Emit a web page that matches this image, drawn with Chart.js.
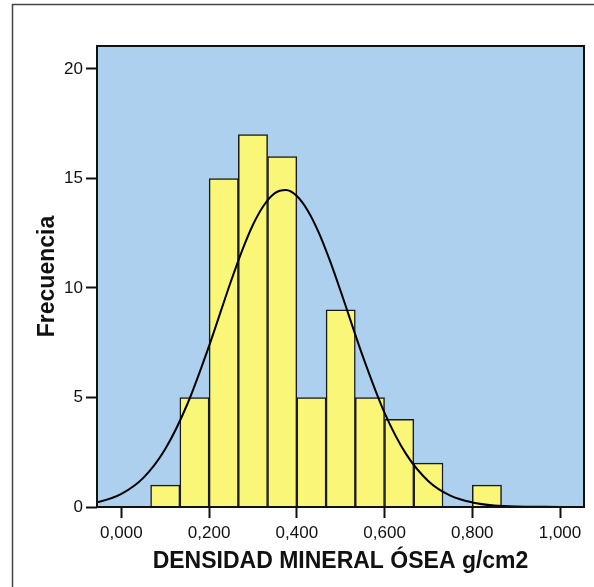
<!DOCTYPE html>
<html lang="es">
<head>
<meta charset="UTF-8">
<title>Densidad mineral ósea - histograma</title>
<script src="https://cdn.jsdelivr.net/npm/chart.js@4.4.1/dist/chart.umd.min.js"></script>
<style>
    html, body { margin: 0; padding: 0; background: #fff; }
</style>
</head>
<body>
<canvas id="histChart" width="594" height="587"></canvas>
<script>
// histogram bins (g/cm2) and frequencies
const binEdges = [0.0667, 0.1333, 0.2000, 0.2667, 0.3333, 0.4000, 0.4667, 0.5333, 0.6000, 0.6667, 0.7333, 0.8000, 0.8667];
const counts   = [1, 5, 15, 17, 16, 5, 9, 5, 4, 2, 0, 1];

// normal curve
const curveX = [-0.10, -0.05, 0.00, 0.05, 0.10, 0.15, 0.20, 0.25, 0.275, 0.30, 0.325, 0.35, 0.375, 0.40, 0.425, 0.45, 0.475, 0.50, 0.55, 0.60, 0.65, 0.70, 0.75, 0.80, 0.85, 0.90, 0.95, 1.00, 1.05, 1.10];
const curveY = [0.085, 0.24, 0.60, 1.33, 2.65, 4.68, 7.36, 10.32, 11.70, 12.89, 13.78, 14.33, 14.47, 14.20, 13.53, 12.53, 11.27, 9.85, 6.90, 4.30, 2.39, 1.18, 0.52, 0.21, 0.07, 0.02, 0.01, 0.00, 0.00, 0.00];

const xTicks = [0, 0.2, 0.4, 0.6, 0.8, 1.0];
const yTicks = [0, 5, 10, 15, 20];

const barPoints = counts.map((c, i) => ({ x: (binEdges[i] + binEdges[i + 1]) / 2, y: c }));
const curvePoints = curveX.map((x, i) => ({ x: x, y: curveY[i] }));

const FONT = "'Liberation Sans', Arial, Helvetica, sans-serif";

// blue plot background + dark frame, and the outer page frame
const frames = {
    id: 'frames',
    beforeDatasetsDraw(chart) {
        const { ctx, chartArea: a } = chart;
        ctx.save();
        ctx.fillStyle = '#ADD0EE';
        ctx.fillRect(a.left, a.top, a.right - a.left, a.bottom - a.top);
        ctx.restore();
    },
    afterDraw(chart) {
        const { ctx, chartArea: a } = chart;
        ctx.save();
        ctx.strokeStyle = '#111';
        ctx.lineWidth = 2;
        ctx.strokeRect(a.left, a.top, a.right - a.left, a.bottom - a.top);
        ctx.strokeStyle = '#444';
        ctx.lineWidth = 1.5;
        ctx.beginPath();
        ctx.moveTo(12.5, 587);
        ctx.lineTo(12.5, 4.5);
        ctx.lineTo(594, 4.5);
        ctx.stroke();
        ctx.restore();
    }
};

new Chart(document.getElementById('histChart').getContext('2d'), {
    type: 'bar',
    data: {
        datasets: [{
            type: 'line',
            data: curvePoints,
            borderColor: '#000',
            borderWidth: 2,
            pointRadius: 0,
            cubicInterpolationMode: 'monotone',
            fill: false,
            order: 0
        }, {
            type: 'bar',
            data: barPoints,
            backgroundColor: '#FAF678',
            borderColor: '#1a1a1a',
            borderWidth: 1.5,
            barPercentage: 1,
            categoryPercentage: 1,
            order: 1
        }]
    },
    options: {
        responsive: false,
        animation: false,
        layout: { padding: { left: 0, top: 46, right: 10, bottom: 0 } },
        plugins: {
            legend: { display: false },
            tooltip: { enabled: false }
        },
        scales: {
            x: {
                type: 'linear',
                min: -0.0556,
                max: 1.0547,
                offset: false,
                afterFit: s => { s.height = 80; },
                afterBuildTicks: s => { s.ticks = xTicks.map(v => ({ value: v })); },
                grid: { offset: false, drawOnChartArea: false, tickLength: 11, tickColor: '#111', tickWidth: 2 },
                border: { display: false },
                ticks: {
                    padding: 5,
                    color: '#111',
                    font: { family: FONT, size: 17 },
                    maxRotation: 0,
                    callback: v => Number(v).toFixed(3).replace('.', ',')
                },
                title: {
                    display: true,
                    text: 'DENSIDAD MINERAL ÓSEA g/cm2',
                    color: '#111',
                    font: { family: FONT, size: 23, weight: 'bold', lineHeight: 1 },
                    padding: { top: 0, bottom: 13.5 }
                }
            },
            y: {
                min: 0,
                max: 21.05,
                afterFit: s => { s.width = 97; },
                afterBuildTicks: s => { s.ticks = yTicks.map(v => ({ value: v })); },
                grid: { drawOnChartArea: false, tickLength: 11, tickColor: '#111', tickWidth: 2 },
                border: { display: false },
                ticks: {
                    padding: 3,
                    color: '#111',
                    font: { family: FONT, size: 17 }
                },
                title: {
                    display: true,
                    text: 'Frecuencia',
                    color: '#111',
                    font: { family: FONT, size: 23, weight: 'bold', lineHeight: 1 },
                    padding: { top: 36, bottom: 0 }
                }
            }
        }
    },
    plugins: [frames]
});
</script>
</body>
</html>
